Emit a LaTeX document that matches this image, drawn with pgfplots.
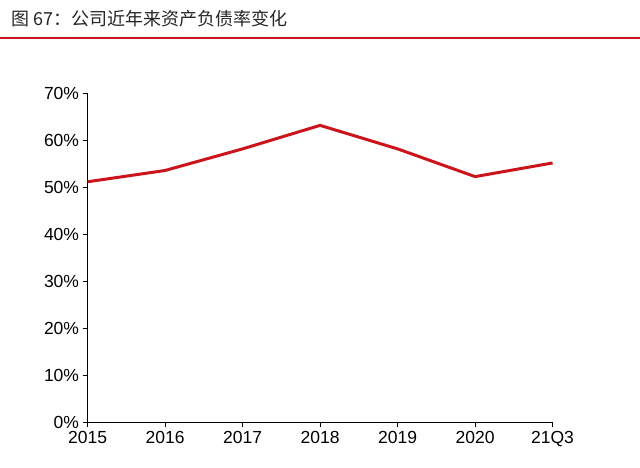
\documentclass[border=0pt]{standalone}
\usepackage{pgfplots}
\pgfplotsset{compat=1.18}
\usepackage{fontspec}
\setmainfont{Liberation Sans}
\newfontfamily\cjk{Noto Sans CJK SC}
\definecolor{myred}{RGB}{204,20,28}
\begin{document}
\begin{tikzpicture}[x=1pt,y=1pt]
\path[use as bounding box] (0,0) rectangle (640,468);
\node[anchor=west,font=\cjk\fontsize{18}{20}\selectfont,text=black!85] at (8,449) {图 67：公司近年来资产负债率变化};
\draw[myred,line width=1.2pt] (0,430) -- (640,430);
\begin{axis}[at={(113,97)},anchor=origin,scale only axis,width=465pt,height=329pt,
 xmin=0,xmax=6,ymin=0,ymax=70,
 xtick={0,...,6},xticklabels={2015,2016,2017,2018,2019,2020,21Q3},
 ytick={0,10,...,70},yticklabel={\pgfmathprintnumber{\tick}\%},
 axis x line*=bottom, axis y line*=left,
 tick style={black,line width=0.6pt}, tick align=outside, major tick length=5pt,
 axis line style={black,line width=0.6pt},
 ticklabel style={font=\fontsize{17.5}{20}\selectfont},
 /pgf/number format/assume math mode=true,
 clip=false]
\addplot[myred,line width=3pt] coordinates {(0,51.2)(1,53.6)(2,58.2)(3,63.2)(4,58.2)(5,52.3)(6,55.2)};
\end{axis}
\end{tikzpicture}
\end{document}
